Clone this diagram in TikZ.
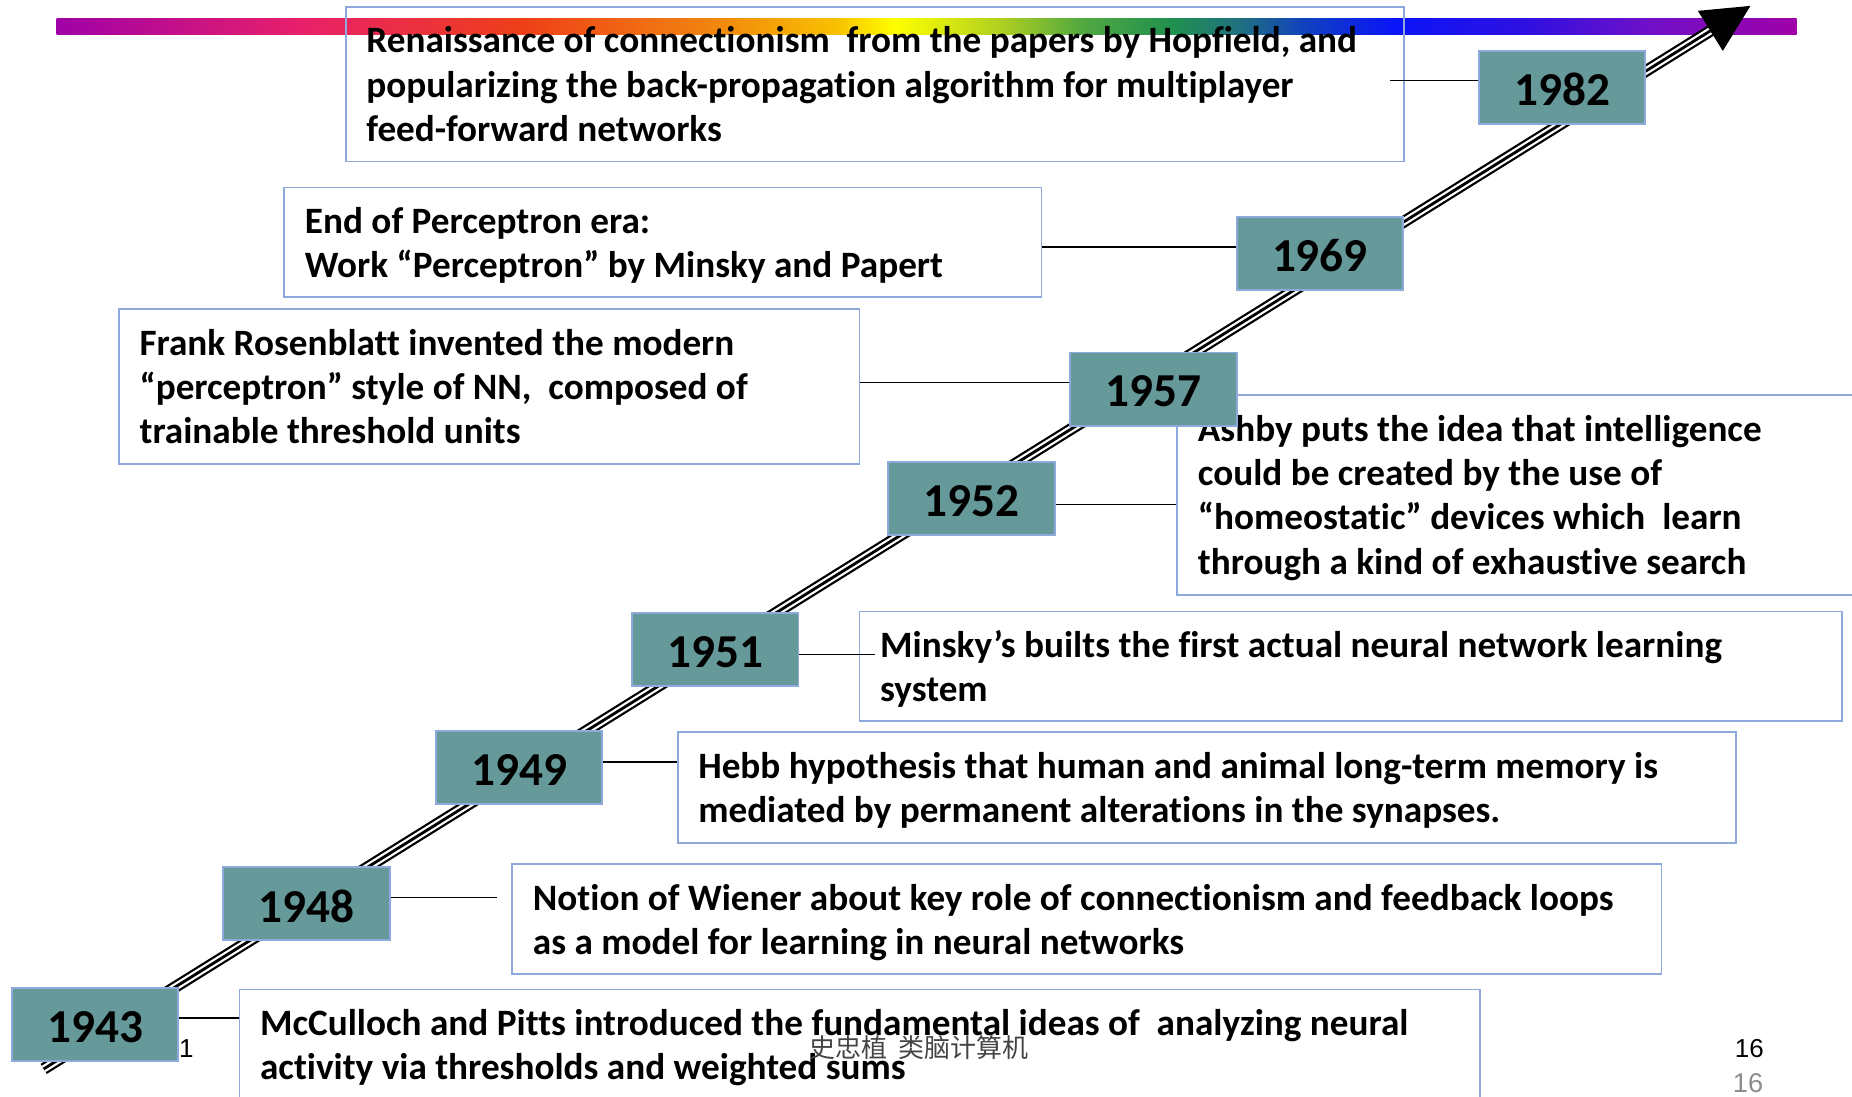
\documentclass[tikz,border=0pt]{standalone}
\usepackage{fontspec}
\setmainfont{Carlito}[Ligatures=NoCommon]
\newfontfamily\footfont{Liberation Sans}
\newfontfamily\cjkfont{Noto Sans CJK SC}
\usetikzlibrary{calc}

\definecolor{yearfill}{HTML}{669999}
\definecolor{frameblue}{HTML}{8EA9DB}
\definecolor{pagegray}{HTML}{8C8C8C}
\definecolor{footink}{HTML}{444444}

% rainbow colours of the title bar
\definecolor{rbA}{HTML}{A000A8}
\definecolor{rbB}{HTML}{E8206A}
\definecolor{rbC}{HTML}{EE4018}
\definecolor{rbD}{HTML}{F28010}
\definecolor{rbE}{HTML}{F8C000}
\definecolor{rbF}{HTML}{FFFF00}
\definecolor{rbG}{HTML}{B0D020}
\definecolor{rbH}{HTML}{50A840}
\definecolor{rbI}{HTML}{209050}
\definecolor{rbJ}{HTML}{207080}
\definecolor{rbK}{HTML}{1040C0}
\definecolor{rbL}{HTML}{0A14F8}
\definecolor{rbM}{HTML}{3010E0}
\definecolor{rbN}{HTML}{7010C8}

\pgfdeclarehorizontalshading{rainbowbar}{100bp}{%
  color(0bp)=(rbA); color(25bp)=(rbA); color(32bp)=(rbB); color(38.4bp)=(rbC);
  color(43.5bp)=(rbD); color(47.4bp)=(rbE); color(49.1bp)=(rbF); color(52.1bp)=(rbG);
  color(54.5bp)=(rbH); color(57.1bp)=(rbI); color(59bp)=(rbJ); color(60.9bp)=(rbK);
  color(63.5bp)=(rbL); color(67.3bp)=(rbM); color(70.8bp)=(rbN); color(75bp)=(rbA);
  color(100bp)=(rbA)}

\tikzset{
  yearbox/.style={draw=frameblue, line width=1.5pt, fill=yearfill,
    minimum width=141pt, minimum height=62pt, inner sep=0pt,
    font=\fontsize{40}{46}\selectfont\bfseries},
  yearlabel/.style={inner sep=0pt, font=\fontsize{40}{46}\selectfont\bfseries},
  textframe/.style={draw=frameblue, line width=1.5pt, anchor=north west, inner sep=0pt},
  entry/.style={anchor=north west, inner xsep=18pt, inner ysep=13.25pt, align=left,
    font=\fontsize{31.5}{37.5}\selectfont\bfseries},
  conn/.style={draw=black, line width=1.2pt},
}

\begin{document}
\begin{tikzpicture}[x=1pt, y=-1pt]
\useasboundingbox (0,0) rectangle (1568,928);
\clip (0,0) rectangle (1568,928);

% title bar
\shade[shading=rainbowbar] (48,16) rectangle (1521,29);

% time axis: triple-line shaft with a solid head
\coordinate (astart) at (37,905);
\coordinate (atip) at (1482,5);
\coordinate (abase) at ($(atip)!40pt!(astart)$);
\coordinate (ahl) at ($(abase)!20pt!90:(atip)$);
\coordinate (ahr) at ($(abase)!20pt!-90:(atip)$);
\draw[black, line width=10pt] (astart) -- (abase);
\draw[white, line width=6.2pt] (astart) -- (abase);
\draw[black, line width=2.4pt] (astart) -- (abase);
\fill[black] (atip) -- (ahl) -- (ahr) -- cycle;

% event frames
\node[textframe, minimum width=896pt, minimum height=131pt] (fR) at (292,5) {};
\node[textframe, minimum width=641pt, minimum height=93pt] (fE) at (240,158) {};
\node[textframe, minimum width=627pt, minimum height=131pt] (fF) at (100,261) {};
\node[textframe, minimum width=620pt, minimum height=169pt] (fA) at (996,334) {};
\node[textframe, minimum width=832pt, minimum height=93pt] (fM) at (727,517) {};
\node[textframe, minimum width=896pt, minimum height=94pt] (fH) at (573,619) {};
\node[textframe, minimum width=973pt, minimum height=93pt] (fW) at (433,731) {};
\node[textframe, minimum width=1050pt, minimum height=131pt] (fC) at (202,837) {};

% event texts
\node[entry] (tR) at (fR.north west) {\strut Renaissance of connectionism\ \ from the papers by Hopfield, and\\
  \strut popularizing the back-propagation algorithm for multiplayer\\
  \strut feed-forward networks};
\node[entry] (tE) at (fE.north west) {\strut End of Perceptron era:\\
  \strut Work “Perceptron” by Minsky and Papert};
\node[entry] (tF) at (fF.north west) {\strut Frank Rosenblatt invented the modern\\
  \strut “perceptron” style of NN,\ \ composed of\\
  \strut trainable threshold units};
\node[entry] (tA) at (fA.north west) {\strut Ashby puts the idea that intelligence\\
  \strut could be created by the use of\\
  \strut “homeostatic” devices which\ \ learn\\
  \strut through a kind of exhaustive search};
\node[entry] (tM) at (fM.north west) {\strut Minsky’s builts the first actual neural network learning\\
  \strut system};
\node[entry] (tH) at (fH.north west) {\strut Hebb hypothesis that human and animal long-term memory is\\
  \strut mediated by permanent alterations in the synapses.};
\node[entry] (tW) at (fW.north west) {\strut Notion of Wiener about key role of connectionism and feedback loops\\
  \strut as a model for learning in neural networks};
\node[entry] (tC) at (fC.north west) {\strut McCulloch and Pitts introduced the fundamental ideas of\ \ analyzing neural\\
  \strut activity via thresholds and weighted sums};

% footer date fragment, partly hidden by the first year box
\node[anchor=base east, inner sep=0pt, font=\footfont\fontsize{22}{26}\selectfont] (fdate) at (164,895) {21};

% year boxes (labels sit slightly below the box centre)
\foreach \yr/\cx/\cy in {1982/1322.5/74, 1969/1117.5/214.5, 1957/976.5/329.5, 1952/822.5/422,
                         1951/605.5/550, 1949/439.5/650, 1948/259.5/765, 1943/80.5/867.5}{
  \node[yearbox] (y\yr) at (\cx,\cy) {};
  \node[yearlabel] (l\yr) at ([yshift=-2pt]y\yr.center) {\yr};
}

% leader lines between years and events
\coordinate (k1982) at ([yshift=6pt]y1982.west);
\coordinate (k1969) at ([yshift=5.5pt]y1969.west);
\coordinate (k1957) at ([yshift=5.5pt]y1957.west);
\coordinate (k1952) at ([yshift=-5pt]y1952.east);
\coordinate (k1951) at ([yshift=-4pt]y1951.east);
\coordinate (k1949) at ([yshift=5pt]y1949.east);
\coordinate (k1948) at ([yshift=5pt]y1948.east);
\coordinate (k1943) at ([yshift=5.5pt]y1943.east);
\draw[conn] (k1982) -- ($(fR.east |- k1982)+(-13,0)$);
\draw[conn] (k1969) -- (fE.east |- k1969);
\draw[conn] (k1957) -- (fF.east |- k1957);
\draw[conn] (k1952) -- (fA.west |- k1952);
\draw[conn] (k1951) -- ($(fM.west |- k1951)+(14,0)$);
\draw[conn] (k1949) -- (fH.west |- k1949);
\draw[conn] (k1948) -- ($(fW.west |- k1948)+(-12,0)$);
\draw[conn] (k1943) -- (fC.west |- k1943);

% footer
\node[anchor=base, inner sep=0pt, text=footink, font=\cjkfont\fontsize{22}{26}\selectfont] (fauthor) at (778,895) {史忠植\ \ 类脑计算机};
\node[anchor=base, inner sep=0pt, font=\footfont\fontsize{22}{26}\selectfont] (fpage) at (1481,895) {16};
\node[anchor=base, inner sep=0pt, text=pagegray, font=\footfont\fontsize{23}{27}\selectfont] (fnum) at (1480,925) {16};
\end{tikzpicture}
\end{document}
